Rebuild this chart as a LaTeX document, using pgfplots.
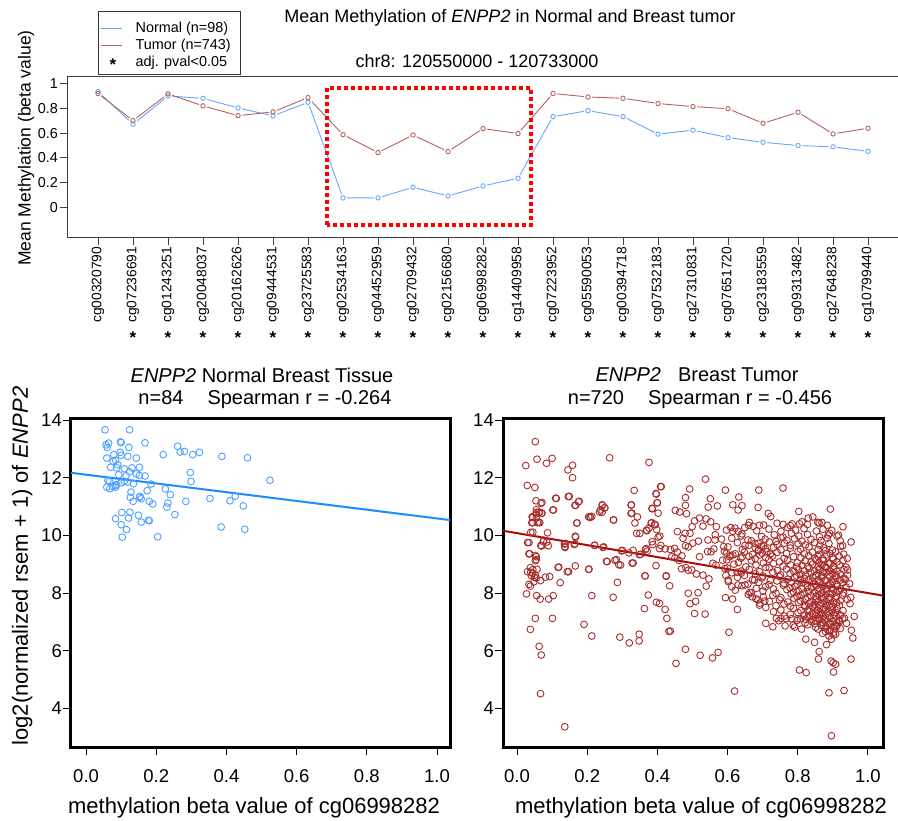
\documentclass[border=0pt]{standalone}
\usepackage{pgfplots}
\pgfplotsset{compat=1.18}
\usepackage{fontspec}
\setmainfont{Liberation Sans}
\definecolor{normline}{RGB}{100,168,255}
\definecolor{tumline}{RGB}{184,96,96}
\definecolor{sblue}{RGB}{77,160,255}
\definecolor{sblueline}{RGB}{25,140,255}
\definecolor{sred}{RGB}{168,45,45}
\definecolor{sredline}{RGB}{175,10,10}
\newcommand{\fs}[1]{\fontsize{#1pt}{#1pt}\selectfont}
\pgfplotsset{
  scat/.style={
    scale only axis, height=329pt, ymin=2.66, ymax=14.07,
    axis line style={line width=3pt, black},
    tick style={line width=1pt, black},
    tick align=outside, major tick length=8pt, tick pos=left,
    xtick={0,0.2,0.4,0.6,0.8,1}, xticklabels={0.0,0.2,0.4,0.6,0.8,1.0},
    ytick={4,6,8,10,12,14}, yticklabels={4,6,8,10,12,14},
    ticklabel style={font=\fs{18.5}},
    xticklabel style={anchor=north, inner sep=0pt, yshift=-14pt},
    yticklabel style={anchor=east, inner sep=1pt},
    xlabel={methylation beta value of cg06998282},
    xlabel style={font=\fs{22}, anchor=center},
  }
}
\begin{document}
\begin{tikzpicture}
\useasboundingbox (0pt,0pt) rectangle (898pt,-821pt);
% ---------------- top panel ----------------
\begin{axis}[
  at={(67pt,-237.7pt)}, anchor=south west, scale only axis,
  width=835pt, height=161pt,
  xmin=-0.886, xmax=22.97, ymin=-0.246, ymax=1.057,
  axis line style={line width=0.9pt, black!75},
  tick style={line width=0.9pt, black!75},
  tick align=outside, major tick length=7pt, tick pos=left,
  xtick={0,...,22},
  xticklabels={cg00320790,cg07236691,cg01243251,cg20048037,cg20162626,cg09444531,cg23725583,cg02534163,cg04452959,cg02709432,cg02156680,cg06998282,cg14409958,cg07223952,cg05590053,cg00394718,cg07532183,cg27310831,cg07651720,cg23183559,cg09313482,cg27648238,cg10799440},
  xticklabel style={rotate=90, anchor=east, font=\fs{13.8}, inner sep=2pt},
  ytick={0,0.2,0.4,0.6,0.8,1}, yticklabels={0,0.2,0.4,0.6,0.8,1},
  yticklabel style={font=\fs{14.4}, inner sep=2pt},
  extra x ticks={1,2,3,4,5,6,7,8,9,10,11,12,13,14,15,16,17,18,19,20,21,22},
  extra x tick labels={*,*,*,*,*,*,*,*,*,*,*,*,*,*,*,*,*,*,*,*,*,*},
  extra x tick style={major tick length=0pt, xticklabel style={rotate=-90, anchor=center, yshift=-100pt, font=\bfseries\fs{17}}},
  ylabel={Mean Methylation (beta value)},
  ylabel style={at={(axis description cs:-0.049,0.557)}, anchor=center, font=\fs{17.5}},
  clip=false,
]
\addplot[normline, line width=0.9pt] coordinates {(0,0.937) (1,0.672) (2,0.901) (3,0.882) (4,0.804) (5,0.740) (6,0.850) (7,0.076) (8,0.076) (9,0.162) (10,0.092) (11,0.173) (12,0.235) (13,0.734) (14,0.782) (15,0.734) (16,0.592) (17,0.624) (18,0.564) (19,0.526) (20,0.500) (21,0.489) (22,0.453)};
\addplot[tumline, line width=0.9pt] coordinates {(0,0.921) (1,0.702) (2,0.918) (3,0.821) (4,0.742) (5,0.772) (6,0.888) (7,0.588) (8,0.443) (9,0.585) (10,0.451) (11,0.637) (12,0.597) (13,0.921) (14,0.893) (15,0.882) (16,0.840) (17,0.815) (18,0.798) (19,0.680) (20,0.769) (21,0.594) (22,0.640)};
\addplot[only marks, mark=*, mark size=4pt, mark options={fill=white, draw=white}] coordinates {(0,0.937) (1,0.672) (2,0.901) (3,0.882) (4,0.804) (5,0.740) (6,0.850) (7,0.076) (8,0.076) (9,0.162) (10,0.092) (11,0.173) (12,0.235) (13,0.734) (14,0.782) (15,0.734) (16,0.592) (17,0.624) (18,0.564) (19,0.526) (20,0.500) (21,0.489) (22,0.453)};
\addplot[only marks, mark=*, mark size=4pt, mark options={fill=white, draw=white}] coordinates {(0,0.921) (1,0.702) (2,0.918) (3,0.821) (4,0.742) (5,0.772) (6,0.888) (7,0.588) (8,0.443) (9,0.585) (10,0.451) (11,0.637) (12,0.597) (13,0.921) (14,0.893) (15,0.882) (16,0.840) (17,0.815) (18,0.798) (19,0.680) (20,0.769) (21,0.594) (22,0.640)};
\addplot[only marks, mark=o, mark size=2.2pt, normline, mark options={line width=0.9pt}] coordinates {(0,0.937) (1,0.672) (2,0.901) (3,0.882) (4,0.804) (5,0.740) (6,0.850) (7,0.076) (8,0.076) (9,0.162) (10,0.092) (11,0.173) (12,0.235) (13,0.734) (14,0.782) (15,0.734) (16,0.592) (17,0.624) (18,0.564) (19,0.526) (20,0.500) (21,0.489) (22,0.453)};
\addplot[only marks, mark=o, mark size=2.2pt, tumline, mark options={line width=0.9pt}] coordinates {(0,0.921) (1,0.702) (2,0.918) (3,0.821) (4,0.742) (5,0.772) (6,0.888) (7,0.588) (8,0.443) (9,0.585) (10,0.451) (11,0.637) (12,0.597) (13,0.921) (14,0.893) (15,0.882) (16,0.840) (17,0.815) (18,0.798) (19,0.680) (20,0.769) (21,0.594) (22,0.640)};
\draw[red, line width=4pt, dash pattern=on 4pt off 3pt] (axis cs:6.54,-0.143) rectangle (axis cs:12.37,0.966);
\end{axis}
% legend
\draw[black!80, line width=0.9pt] (98pt,-11pt) rectangle (240pt,-74pt);
\draw[normline, line width=0.9pt] (101pt,-28.5pt) -- (122pt,-28.5pt);
\draw[tumline, line width=0.9pt] (101pt,-45.5pt) -- (122pt,-45.5pt);
\node[font=\bfseries\fs{17}] at (113pt,-65pt) {*};
\node[font=\fs{14.4}, anchor=west, inner sep=0pt] at (135.5pt,-28.5pt) {Normal (n=98)};
\node[font=\fs{14.4}, anchor=west, inner sep=0pt] at (135.5pt,-45.5pt) {Tumor (n=743)};
\node[font=\fs{14.4}, anchor=west, inner sep=0pt] at (135.5pt,-62.5pt) {adj. pval<0.05};
% titles
\node[font=\fs{18}] at (510pt,-18pt) {Mean Methylation of \textit{ENPP2} in Normal and Breast tumor};
\node[font=\fs{18}] at (477pt,-61pt) {chr8: 120550000 - 120733000};
\node[font=\fs{20}] at (262pt,-375pt) {\textit{ENPP2} Normal Breast Tissue};
\node[font=\fs{20}] at (265pt,-400pt) {n=84\hspace{24pt}Spearman r = -0.264};
\node[font=\fs{20}] at (697pt,-375pt) {\textit{ENPP2}\hspace{17pt}Breast Tumor};
\node[font=\fs{20}] at (700pt,-400pt) {n=720\hspace{24pt}Spearman r = -0.456};
% ---------------- bottom left ----------------
\begin{axis}[scat,
  at={(71pt,-747pt)}, anchor=south west, width=379pt,
  xmin=-0.043, xmax=1.037,
  xlabel style={at={(axis description cs:0.483,-0.185)}},
  ylabel={log2(normalized rsem + 1) of \textit{ENPP2}},
  ylabel style={at={(axis description cs:-0.129,0.55)}, anchor=center, font=\fs{22}},
]
\addplot[only marks, mark=o, mark size=3.4pt, sblue, mark options={line width=0.9pt}] coordinates {
(0.054,13.66) (0.124,13.66) (0.057,13.14) (0.064,13.20) (0.060,13.05) (0.098,13.24) (0.100,13.22) (0.122,13.05) (0.168,13.21) (0.261,13.09)
(0.268,12.89) (0.280,12.91) (0.220,12.80) (0.304,12.80) (0.323,12.88) (0.387,12.74) (0.460,12.69) (0.059,12.68) (0.079,12.80) (0.097,12.88)
(0.100,12.78) (0.119,12.74) (0.143,12.68) (0.077,12.57) (0.084,12.60) (0.090,12.45) (0.070,12.36) (0.087,12.34) (0.109,12.31) (0.131,12.34)
(0.152,12.36) (0.297,12.18) (0.299,11.87) (0.524,11.91) (0.093,12.10) (0.114,12.07) (0.124,12.20) (0.143,12.13) (0.152,12.08) (0.168,12.06)
(0.062,11.90) (0.067,11.87) (0.100,11.82) (0.109,11.87) (0.119,11.85) (0.135,11.79) (0.185,11.78) (0.059,11.67) (0.068,11.62) (0.076,11.70)
(0.084,11.67) (0.087,11.76) (0.083,11.73) (0.226,11.61) (0.240,11.41) (0.174,11.55) (0.128,11.50) (0.126,11.32) (0.134,11.18) (0.152,11.32)
(0.157,11.27) (0.154,11.35) (0.180,11.18) (0.190,11.09) (0.233,11.12) (0.230,10.98) (0.284,11.18) (0.353,11.28) (0.410,11.20) (0.425,11.36)
(0.448,11.02) (0.253,10.72) (0.084,10.58) (0.102,10.79) (0.125,10.80) (0.121,10.60) (0.149,10.70) (0.157,10.46) (0.178,10.52) (0.180,10.51)
(0.100,10.37) (0.115,10.20) (0.103,9.94) (0.204,9.95) (0.385,10.29) (0.452,10.21)
};
\addplot[sblueline, line width=2pt] coordinates {(-0.043,12.17) (1.037,10.53)};
\end{axis}
% ---------------- bottom right ----------------
\begin{axis}[scat,
  at={(503pt,-747pt)}, anchor=south west, width=380pt,
  xmin=-0.040, xmax=1.043,
  xlabel style={at={(axis description cs:0.521,-0.185)}},
]
\addplot[only marks, mark=o, mark size=3.4pt, sred, mark options={line width=0.9pt}] coordinates {
(0.052,13.25) (0.057,12.64) (0.025,12.42) (0.084,12.50) (0.100,12.67) (0.264,12.69) (0.376,12.53) (0.145,12.27) (0.158,12.43) (0.158,12.00)
(0.029,11.73) (0.051,11.66) (0.334,11.56) (0.409,11.69) (0.396,11.45) (0.492,11.61) (0.537,11.95) (0.594,11.57) (0.689,11.57) (0.758,11.64)
(0.110,11.29) (0.146,11.35) (0.054,11.20) (0.071,11.14) (0.102,10.88) (0.165,11.04) (0.175,11.16) (0.243,11.06) (0.250,10.96) (0.235,10.81)
(0.208,10.64) (0.325,11.05) (0.325,10.76) (0.400,11.13) (0.385,10.94) (0.480,11.31) (0.480,11.04) (0.451,10.87) (0.464,10.81) (0.483,10.75)
(0.551,11.27) (0.545,10.98) (0.571,11.02) (0.615,11.06) (0.632,11.33) (0.641,11.03) (0.687,10.97) (0.630,10.88) (0.716,10.76) (0.723,10.65)
(0.803,10.83) (0.830,10.60) (0.843,10.64) (0.893,10.91) (0.857,10.45) (0.869,10.45) (0.784,10.40) (0.805,10.40) (0.758,10.38) (0.891,10.07)
(0.916,10.01) (0.929,10.30) (0.952,9.77) (0.942,8.80) (0.935,8.47) (0.961,7.19) (0.953,6.71) (0.957,6.44) (0.952,5.71) (0.932,4.62)
(0.889,4.54) (0.896,3.05) (0.901,5.58) (0.908,5.53) (0.895,5.64) (0.902,5.26) (0.805,5.33) (0.824,5.24) (0.859,5.71) (0.861,5.97)
(0.882,6.21) (0.823,6.40) (0.848,6.29) (0.620,4.60) (0.604,6.64) (0.522,5.84) (0.557,5.75) (0.573,5.94) (0.480,6.05) (0.453,5.56)
(0.628,7.43) (0.509,7.71) (0.536,7.27) (0.506,7.29) (0.493,7.63) (0.067,4.51) (0.136,3.36) (0.069,5.85) (0.063,6.15) (0.038,6.74)
(0.052,7.12) (0.101,7.12) (0.191,6.91) (0.213,6.51) (0.293,6.47) (0.320,6.27) (0.348,6.57) (0.348,6.34) (0.433,6.67) (0.437,6.68)
(0.427,7.12) (0.422,7.43) (0.406,7.64) (0.397,7.68) (0.363,7.46) (0.374,7.93) (0.274,7.85) (0.213,7.91) (0.103,7.91) (0.090,7.79)
(0.066,7.79) (0.056,7.91) (0.027,7.97) (0.034,8.30) (0.038,8.24) (0.067,8.43) (0.081,8.55) (0.093,8.57) (0.123,8.36) (0.143,8.74)
(0.117,8.89) (0.166,8.94) (0.204,8.82) (0.295,8.97) (0.286,8.37) (0.331,9.04) (0.365,8.59) (0.396,8.95) (0.425,8.58) (0.435,8.25)
(0.030,9.75) (0.034,9.36) (0.030,8.74) (0.038,8.88) (0.044,8.68) (0.050,8.54) (0.048,8.39) (0.055,9.26) (0.052,9.12) (0.057,8.82)
(0.039,10.10) (0.042,10.44) (0.045,10.62) (0.054,10.74) (0.062,10.80) (0.070,10.77) (0.065,10.44) (0.058,10.44) (0.068,11.11) (0.070,9.63)
(0.087,10.09) (0.089,9.64) (0.075,9.78) (0.135,9.70) (0.136,9.61) (0.166,9.97) (0.170,10.43) (0.165,9.71) (0.204,10.64) (0.221,9.66)
(0.247,9.60) (0.255,9.10) (0.275,10.53) (0.279,9.14) (0.298,9.46) (0.331,9.48) (0.328,9.04) (0.341,10.07) (0.350,10.07) (0.352,9.34)
(0.366,9.51) (0.369,10.18) (0.370,10.16) (0.384,10.44) (0.392,10.38) (0.398,10.20) (0.407,9.97) (0.385,9.78) (0.410,9.65) (0.422,9.53)
(0.437,9.51) (0.441,9.26) (0.457,10.13) (0.473,9.90) (0.479,10.07) (0.493,10.07) (0.499,10.30) (0.506,10.50) (0.520,10.60) (0.539,10.57)
(0.530,10.32) (0.552,10.47) (0.568,10.30) (0.565,10.02) (0.544,9.84) (0.564,9.84) (0.583,9.87) (0.597,10.18) (0.609,10.27) (0.615,10.14)
(0.630,10.14) (0.639,9.98) (0.649,10.27) (0.660,10.35) (0.673,10.31) (0.691,10.35) (0.488,9.60) (0.480,9.64) (0.517,9.80) (0.501,9.73)
(0.520,9.26) (0.469,8.84) (0.481,8.88) (0.488,8.79) (0.498,8.80) (0.462,9.13) (0.450,9.22) (0.470,9.29) (0.543,9.44) (0.553,9.43)
(0.561,9.53) (0.547,8.49) (0.539,8.24) (0.530,8.62) (0.558,9.03) (0.567,8.97) (0.511,8.66) (0.488,7.99) (0.516,8.01) (0.589,9.61)
(0.597,9.38) (0.606,9.26) (0.615,9.32) (0.586,9.14) (0.599,8.87) (0.595,8.61) (0.602,8.45) (0.612,8.22) (0.627,8.72) (0.630,8.28)
(0.594,7.84) (0.614,7.79) (0.642,9.26) (0.650,9.65) (0.658,9.84) (0.678,9.72) (0.639,8.69) (0.650,8.28) (0.663,8.02) (0.677,8.45)
(0.670,7.87) (0.687,7.76) (0.691,7.58) (0.706,7.72) (0.709,6.95) (0.729,6.83) (0.739,7.12) (0.746,7.04) (0.752,7.12) (0.764,6.86)
(0.767,7.11) (0.782,7.11) (0.787,6.88) (0.800,7.11) (0.791,6.82) (0.811,6.75) (0.822,7.09) (0.834,7.18) (0.851,7.04) (0.862,7.12)
(0.872,6.97) (0.881,6.83) (0.891,6.67) (0.902,6.55) (0.896,6.40) (0.910,6.83) (0.919,7.01) (0.933,7.13) (0.939,6.95)
(0.112,11.28) (0.149,11.35) (0.177,11.18) (0.167,11.04) (0.104,10.88) (0.055,10.89) (0.055,10.80) (0.064,10.80) (0.043,10.64) (0.055,10.60)
(0.062,10.46) (0.071,10.77) (0.045,10.44) (0.045,10.11) (0.034,9.75) (0.068,9.65) (0.085,9.77) (0.076,9.83) (0.036,9.36) (0.052,9.30)
(0.055,9.16) (0.045,8.81) (0.039,8.72) (0.052,8.63) (0.055,8.52) (0.041,8.60) (0.138,9.72) (0.137,9.58) (0.167,9.94) (0.163,9.68)
(0.209,10.62) (0.213,10.66) (0.243,11.04) (0.250,10.95) (0.242,10.80) (0.238,10.88) (0.171,10.43) (0.275,10.54) (0.326,11.06) (0.327,10.77)
(0.343,10.64) (0.336,10.43) (0.397,11.43) (0.399,11.13) (0.411,11.69) (0.385,10.92) (0.402,10.77) (0.382,10.42) (0.394,10.37) (0.376,10.25)
(0.402,9.94) (0.406,9.54) (0.221,9.65) (0.245,9.58) (0.300,9.48) (0.319,9.39) (0.349,9.33) (0.368,9.54) (0.371,9.45) (0.387,9.68)
(0.257,9.09) (0.283,9.16) (0.290,8.98) (0.365,8.60) (0.425,8.60) (0.449,9.55) (0.457,9.42) (0.119,8.90) (0.147,8.74) (0.205,8.83)
(0.662,10.45) (0.703,10.36) (0.741,10.42) (0.779,10.34) (0.812,10.47) (0.828,10.38) (0.861,10.43) (0.884,10.35)
(0.621,10.25) (0.683,10.16) (0.718,10.22) (0.752,10.14) (0.771,10.27) (0.794,10.18) (0.818,10.23) (0.853,10.15) (0.872,10.21) (0.897,10.17)
(0.641,10.05) (0.697,9.96) (0.733,10.02) (0.758,9.94) (0.782,10.07) (0.803,9.98) (0.828,10.03) (0.862,9.95) (0.887,10.01) (0.912,9.97)
(0.612,9.90) (0.668,9.81) (0.707,9.87) (0.738,9.79) (0.752,9.92) (0.769,9.83) (0.791,9.88) (0.812,9.80) (0.838,9.86) (0.866,9.82) (0.884,9.90) (0.921,9.81)
(0.628,9.75) (0.661,9.66) (0.688,9.72) (0.702,9.64) (0.719,9.77) (0.741,9.68) (0.762,9.73) (0.779,9.65) (0.801,9.71) (0.822,9.67) (0.848,9.75) (0.863,9.66) (0.889,9.72) (0.928,9.64)
(0.601,9.60) (0.642,9.51) (0.679,9.57) (0.688,9.49) (0.697,9.62) (0.708,9.53) (0.731,9.58) (0.752,9.50) (0.779,9.56) (0.808,9.52) (0.832,9.60) (0.858,9.51) (0.874,9.57) (0.899,9.49) (0.922,9.62)
(0.591,9.45) (0.622,9.36) (0.648,9.42) (0.671,9.34) (0.688,9.47) (0.699,9.38) (0.712,9.43) (0.722,9.35) (0.741,9.41) (0.768,9.37) (0.801,9.45) (0.819,9.36) (0.842,9.42) (0.861,9.34) (0.879,9.47) (0.892,9.38) (0.908,9.43) (0.931,9.35)
(0.609,9.30) (0.638,9.21) (0.661,9.27) (0.679,9.19) (0.692,9.32) (0.709,9.23) (0.728,9.28) (0.761,9.20) (0.788,9.26) (0.809,9.22) (0.831,9.30) (0.849,9.21) (0.858,9.27) (0.871,9.19) (0.882,9.32) (0.899,9.23) (0.918,9.28) (0.941,9.20)
(0.598,9.15) (0.631,9.06) (0.668,9.12) (0.702,9.04) (0.718,9.17) (0.748,9.08) (0.771,9.13) (0.799,9.05) (0.821,9.11) (0.838,9.07) (0.852,9.15) (0.861,9.06) (0.873,9.12) (0.888,9.04) (0.901,9.17) (0.912,9.08) (0.929,9.13)
(0.618,9.00) (0.652,8.91) (0.681,8.97) (0.709,8.89) (0.731,9.02) (0.758,8.93) (0.779,8.98) (0.798,8.90) (0.812,8.96) (0.829,8.92) (0.842,9.00) (0.858,8.91) (0.869,8.97) (0.881,8.89) (0.892,9.02) (0.902,8.93) (0.919,8.98) (0.938,8.90)
(0.592,8.85) (0.639,8.76) (0.662,8.82) (0.691,8.74) (0.719,8.87) (0.742,8.78) (0.768,8.83) (0.789,8.75) (0.802,8.81) (0.818,8.77) (0.832,8.85) (0.848,8.76) (0.861,8.82) (0.872,8.74) (0.879,8.87) (0.891,8.78) (0.902,8.83) (0.912,8.75) (0.932,8.81)
(0.612,8.70) (0.648,8.61) (0.679,8.67) (0.701,8.59) (0.729,8.72) (0.751,8.63) (0.778,8.68) (0.797,8.60) (0.809,8.66) (0.822,8.62) (0.838,8.70) (0.851,8.61) (0.858,8.67) (0.869,8.59) (0.881,8.72) (0.889,8.63) (0.899,8.68) (0.909,8.60) (0.921,8.66) (0.942,8.62)
(0.628,8.55) (0.671,8.46) (0.698,8.52) (0.722,8.44) (0.748,8.57) (0.771,8.48) (0.791,8.53) (0.808,8.45) (0.819,8.51) (0.831,8.47) (0.843,8.55) (0.859,8.46) (0.868,8.52) (0.878,8.44) (0.891,8.57) (0.901,8.48) (0.909,8.53) (0.921,8.45) (0.932,8.51)
(0.602,8.40) (0.658,8.31) (0.689,8.37) (0.718,8.29) (0.741,8.42) (0.761,8.33) (0.781,8.38) (0.799,8.30) (0.811,8.36) (0.822,8.32) (0.841,8.40) (0.849,8.31) (0.862,8.37) (0.871,8.29) (0.879,8.42) (0.892,8.33) (0.899,8.38) (0.911,8.30) (0.929,8.36) (0.948,8.32)
(0.641,8.25) (0.682,8.16) (0.708,8.22) (0.731,8.14) (0.759,8.27) (0.778,8.18) (0.792,8.23) (0.812,8.15) (0.828,8.21) (0.839,8.17) (0.852,8.25) (0.861,8.16) (0.872,8.22) (0.881,8.14) (0.888,8.27) (0.898,8.18) (0.912,8.23) (0.922,8.15) (0.938,8.21)
(0.622,8.10) (0.668,8.01) (0.701,8.07) (0.738,7.99) (0.769,8.12) (0.788,8.03) (0.801,8.08) (0.818,8.00) (0.831,8.06) (0.848,8.02) (0.858,8.10) (0.869,8.01) (0.882,8.07) (0.889,7.99) (0.902,8.12) (0.909,8.03) (0.919,8.08) (0.931,8.00)
(0.659,7.95) (0.702,7.86) (0.729,7.92) (0.752,7.84) (0.781,7.97) (0.798,7.88) (0.809,7.93) (0.829,7.85) (0.838,7.91) (0.852,7.87) (0.861,7.95) (0.868,7.86) (0.879,7.92) (0.891,7.84) (0.898,7.97) (0.911,7.88) (0.928,7.93) (0.951,7.85)
(0.681,7.80) (0.719,7.71) (0.748,7.77) (0.772,7.69) (0.789,7.82) (0.808,7.73) (0.822,7.78) (0.838,7.70) (0.851,7.76) (0.859,7.72) (0.872,7.80) (0.881,7.71) (0.889,7.77) (0.901,7.69) (0.908,7.82) (0.921,7.73) (0.941,7.78)
(0.692,7.65) (0.738,7.56) (0.761,7.62) (0.779,7.54) (0.802,7.67) (0.819,7.58) (0.831,7.63) (0.842,7.55) (0.849,7.61) (0.862,7.57) (0.869,7.65) (0.882,7.56) (0.891,7.62) (0.899,7.54) (0.911,7.67) (0.919,7.58) (0.949,7.63)
(0.709,7.50) (0.752,7.41) (0.788,7.47) (0.809,7.39) (0.821,7.52) (0.832,7.43) (0.849,7.48) (0.858,7.40) (0.871,7.46) (0.879,7.42) (0.892,7.50) (0.898,7.41) (0.912,7.47) (0.929,7.39)
(0.731,7.35) (0.779,7.26) (0.801,7.32) (0.818,7.24) (0.829,7.37) (0.841,7.28) (0.852,7.33) (0.861,7.25) (0.868,7.31) (0.881,7.27) (0.889,7.35) (0.902,7.26) (0.909,7.32) (0.922,7.24)
(0.762,7.20) (0.808,7.11) (0.829,7.17) (0.842,7.09) (0.851,7.22) (0.859,7.13) (0.872,7.18) (0.879,7.10) (0.891,7.16) (0.901,7.12) (0.909,7.20) (0.928,7.11)
(0.798,7.05) (0.821,6.96) (0.838,7.02) (0.849,6.94) (0.861,7.07) (0.869,6.98) (0.878,7.03) (0.892,6.95) (0.899,7.01) (0.911,6.97) (0.919,7.05)
(0.829,6.90) (0.851,6.81) (0.868,6.87) (0.879,6.79) (0.889,6.92) (0.901,6.83) (0.912,6.88)
(0.858,6.75) (0.879,6.66) (0.891,6.72) (0.902,6.64) (0.921,6.77)
(0.871,6.60) (0.889,6.51) (0.908,6.57)
};
\addplot[sredline, line width=2pt] coordinates {(-0.040,10.16) (1.043,7.91)};
\end{axis}
\end{tikzpicture}
\end{document}
